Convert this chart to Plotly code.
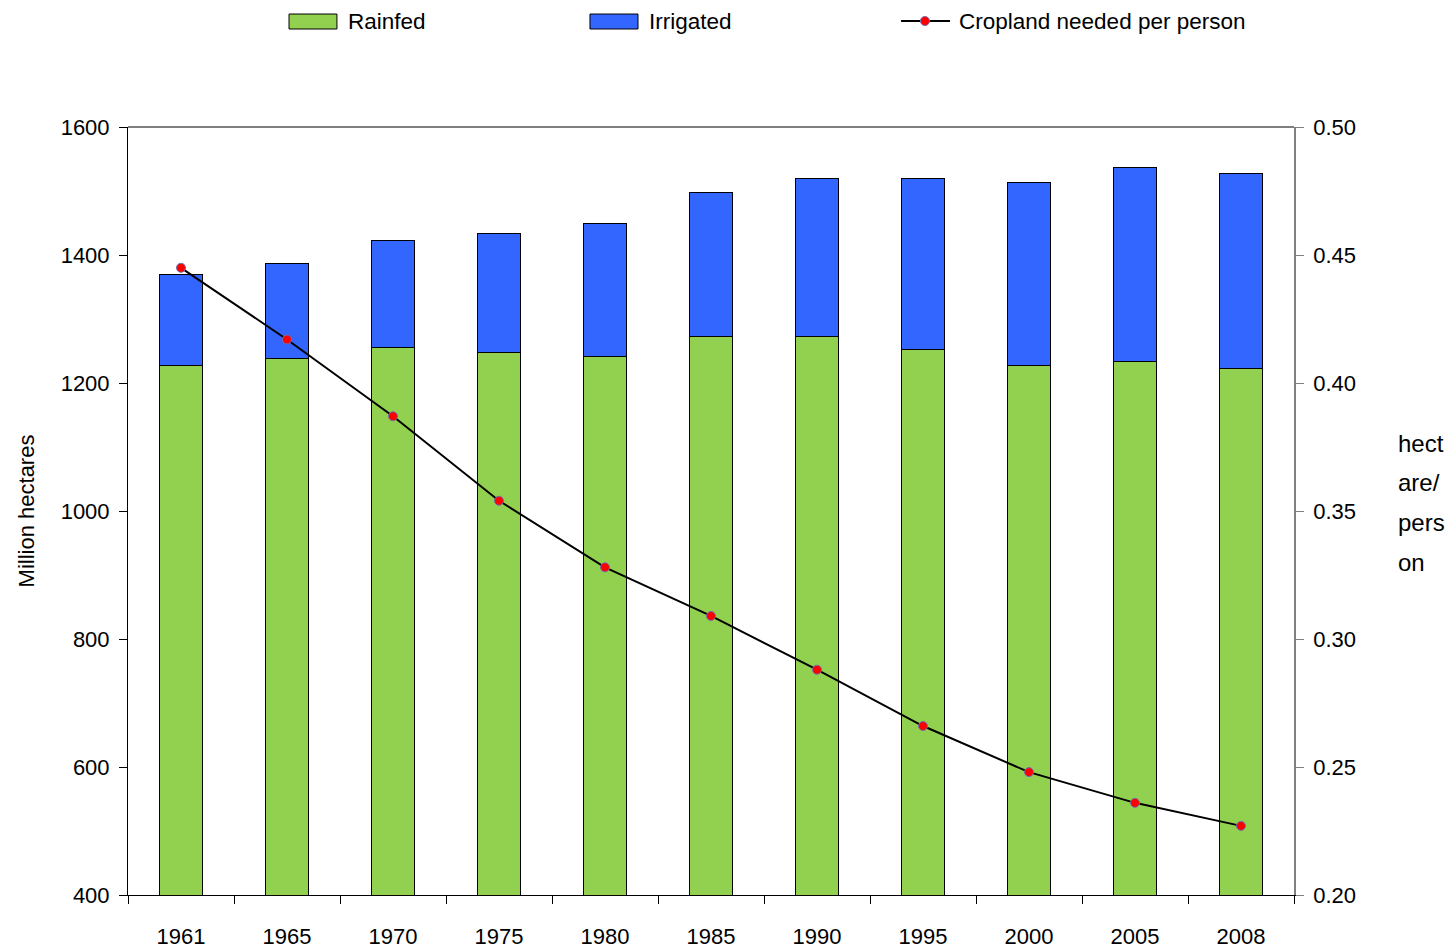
import plotly.graph_objects as go

years = ["1961", "1965", "1970", "1975", "1980", "1985", "1990", "1995", "2000", "2005", "2008"]
rainfed = [1228, 1239, 1256, 1247, 1241, 1272, 1273, 1252, 1228, 1234, 1222]
irrigated = [142, 148, 166, 187, 209, 225, 247, 268, 286, 302, 305]
per_person = [0.445, 0.417, 0.387, 0.354, 0.328, 0.309, 0.288, 0.266, 0.248, 0.236, 0.227]

legend_labels = ["Rainfed", "Irrigated", "Cropland needed per person"]
right_title_lines = ["hect", "are/", "pers", "on"]

FONT = "Liberation Sans, Arial, sans-serif"
GREEN = "#92D050"
BLUE = "#3366FF"

fig = go.Figure()
fig.add_trace(go.Bar(x=years, y=rainfed, name=legend_labels[0], width=0.4,
                     marker=dict(color=GREEN, line=dict(color="black", width=1))))
fig.add_trace(go.Bar(x=years, y=irrigated, name=legend_labels[1], width=0.4,
                     marker=dict(color=BLUE, line=dict(color="black", width=1))))
fig.add_trace(go.Scatter(x=years, y=per_person, name=legend_labels[2], yaxis="y2",
                         mode="lines+markers",
                         line=dict(color="black", width=2),
                         marker=dict(color="red", size=9, line=dict(color="#7070B0", width=1))))

# custom legend (paper coords)
ly0, ly1, lyc = 1.1276, 1.1471, 1.138
shapes = [
    dict(type="line", xref="paper", yref="paper", x0=0, x1=1, y0=1, y1=1,
         line=dict(color="black", width=1)),
    dict(type="rect", xref="paper", yref="paper", x0=0.1381, x1=0.1792, y0=ly0, y1=ly1,
         fillcolor=GREEN, line=dict(color="black", width=1)),
    dict(type="rect", xref="paper", yref="paper", x0=0.3962, x1=0.4374, y0=ly0, y1=ly1,
         fillcolor=BLUE, line=dict(color="black", width=1)),
    dict(type="line", xref="paper", yref="paper", x0=0.6630, x1=0.7050, y0=lyc, y1=lyc,
         line=dict(color="black", width=2)),
    dict(type="circle", xref="paper", yref="paper", x0=0.6835 - 0.0039, x1=0.6835 + 0.0039,
         y0=lyc - 0.0059, y1=lyc + 0.0059, fillcolor="red", line=dict(color="#7070B0", width=1)),
]
annotations = []
for xt, lab in zip([0.187, 0.4451, 0.7110], legend_labels):
    annotations.append(dict(text=lab, xref="paper", yref="paper", x=xt, y=lyc,
                            xanchor="left", yanchor="middle", showarrow=False,
                            font=dict(family=FONT, size=22.5, color="black")))
for yt, lab in zip([0.5885, 0.5365, 0.4844, 0.4323], right_title_lines):
    annotations.append(dict(text=lab, xref="paper", yref="paper", x=1.0875, y=yt,
                            xanchor="left", yanchor="middle", showarrow=False,
                            font=dict(family=FONT, size=24, color="black")))

fig.update_layout(
    barmode="stack",
    showlegend=False,
    width=1456, height=947,
    margin=dict(l=120, r=170, t=119, b=60, autoexpand=False),
    plot_bgcolor="white", paper_bgcolor="white",
    font=dict(family=FONT, size=22, color="black"),
    xaxis=dict(type="category", range=[-0.5, len(years) - 0.5], tickson="boundaries",
               ticks="outside", ticklen=8,
               tickcolor="black", showline=True, linecolor="black", linewidth=1,
               showgrid=False, tickfont=dict(size=22), ticklabelstandoff=22, automargin=False),
    yaxis=dict(range=[400, 1600], dtick=200, ticks="outside", ticklen=8, tickcolor="black",
               showline=True, linecolor="black", linewidth=1, showgrid=False,
               tickfont=dict(size=22), ticklabelstandoff=5, automargin=False,
               title=dict(text="Million hectares", font=dict(size=22), standoff=19)),
    yaxis2=dict(range=[0.20, 0.50], dtick=0.05, tickformat=".2f", overlaying="y", side="right",
                ticks="outside", ticklen=8, tickcolor="#808080", showline=True,
                linecolor="#808080", linewidth=1.5, showgrid=False, tickfont=dict(size=22),
                ticklabelstandoff=5, automargin=False),
    shapes=shapes,
    annotations=annotations,
)

fig.write_html("out.html")
